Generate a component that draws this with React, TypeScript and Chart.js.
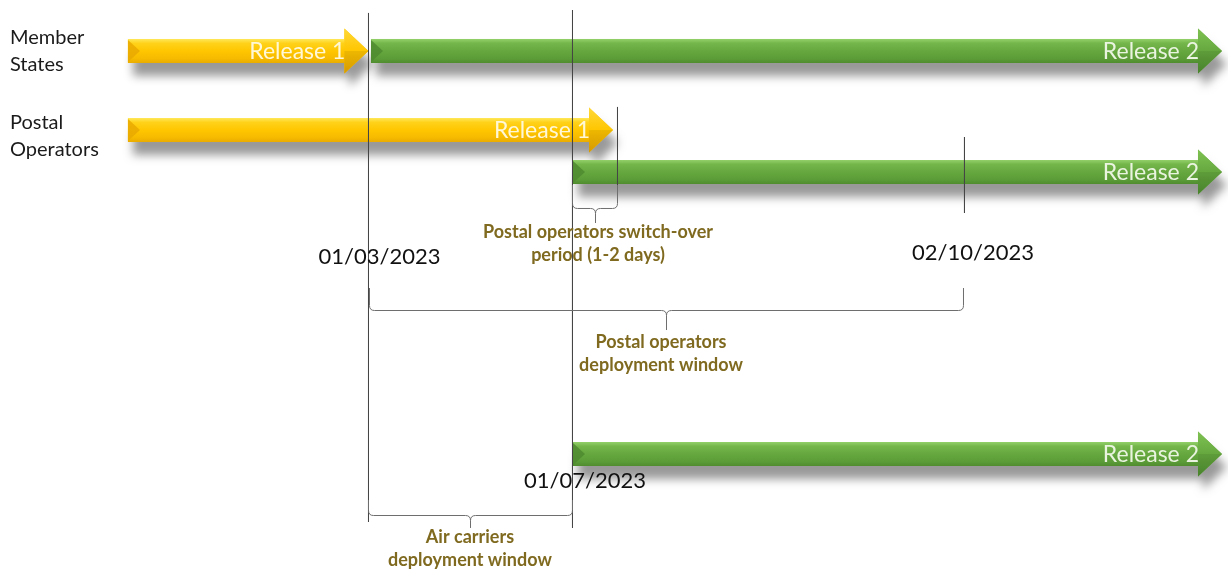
import React, { useEffect, useRef } from 'react';
import { Chart, registerables } from 'chart.js';

Chart.register(...registerables);

// Schematic timeline: x runs 0..100 across the page, y runs 0..100 down the page.
const rowLabelLines = [['Member', 'States'], ['Postal', 'Operators']];
const rowLabelX = [0.81, 0.81];
const rowLabelY = [6.68, 21.62];

const release1Names = ['Release 1', 'Release 1'];
const release1Rows = [8.96, 22.85];
const release1Start = [10.42, 10.42];
const release1End = [30.0, 49.92];

const release2Names = ['Release 2', 'Release 2', 'Release 2'];
const release2Rows = [8.96, 30.23, 79.79];
const release2Start = [30.21, 46.66, 46.66];
const release2End = [99.51, 99.51, 99.51];

const milestoneX = [30.008, 46.62, 50.285, 78.54];
const milestoneTop = [2.28, 1.76, 18.8, 24.08];
const milestoneBottom = [91.74, 92.79, 32.5, 37.43];

const dateLabels = ['01/03/2023', '02/10/2023', '01/07/2023'];
const dateX = [30.9, 79.23, 47.64];
const dateY = [45.17, 44.46, 84.53];

const braceFrom = [46.62, 30.09, 30.008];
const braceTo = [50.285, 78.46, 46.62];
const braceTop = [32.51, 50.62, 87.87];
const braceLine = [36.64, 54.57, 90.6];
const braceTip = [39.19, 58.0, 92.79];
const braceText = [
  ['Postal operators switch-over', 'period (1-2 days)'],
  ['Postal operators', 'deployment window'],
  ['Air carriers', 'deployment window'],
];
const braceTextX = [48.7, 53.83, 38.27];
const braceTextY = [40.77, 60.1, 94.38];

const FONT = 'Lato, "Open Sans", "DejaVu Sans", sans-serif';

const palettes: Record<string, any> = {
  'Release 1': {
    shaft: ['#FFE85A', '#FFD21A', '#FFC600', '#F6BA00', '#E9AC00'],
    headLight: '#FFD83A',
    headDark: '#E7A600',
    notch: '#E9A900',
    text: 'rgba(255,250,225,0.95)',
    names: release1Names,
  },
  'Release 2': {
    shaft: ['#93D06A', '#74B64A', '#66A83F', '#5C9C38', '#4F8C2F'],
    headLight: '#7FC252',
    headDark: '#4E8D2F',
    notch: '#4F8A30',
    text: 'rgba(240,248,232,0.95)',
    names: release2Names,
  },
};

function drawArrow(ctx: CanvasRenderingContext2D, s: number, t: number, cy: number, h: number, pal: any, label: string) {
  const L = 24;
  const H = 22.5;
  const hx = t - L;
  const top = cy - h / 2;
  const bot = cy + h / 2;
  const shape = () => {
    ctx.beginPath();
    ctx.moveTo(s, top);
    ctx.lineTo(hx, top);
    ctx.lineTo(hx, cy - H);
    ctx.lineTo(t, cy);
    ctx.lineTo(hx, cy + H);
    ctx.lineTo(hx, bot);
    ctx.lineTo(s, bot);
    ctx.closePath();
  };
  // shadow
  ctx.save();
  ctx.shadowColor = 'rgba(0,0,0,0.4)';
  ctx.shadowBlur = 10;
  ctx.shadowOffsetX = 5;
  ctx.shadowOffsetY = 13;
  shape();
  ctx.fillStyle = pal.shaft[2];
  ctx.fill();
  ctx.restore();
  // shaft
  const g = ctx.createLinearGradient(0, top, 0, bot);
  g.addColorStop(0, pal.shaft[0]);
  g.addColorStop(0.18, pal.shaft[1]);
  g.addColorStop(0.5, pal.shaft[2]);
  g.addColorStop(0.82, pal.shaft[3]);
  g.addColorStop(1, pal.shaft[4]);
  ctx.fillStyle = g;
  ctx.fillRect(s, top, hx - s + 0.5, h);
  // notch bevel at start
  ctx.beginPath();
  ctx.moveTo(s, top + 1);
  ctx.lineTo(s + 12, cy);
  ctx.lineTo(s, bot - 1);
  ctx.closePath();
  ctx.fillStyle = pal.notch;
  ctx.globalAlpha = 0.85;
  ctx.fill();
  ctx.globalAlpha = 1;
  // head
  const hg = ctx.createLinearGradient(0, cy - H, 0, cy + H);
  hg.addColorStop(0, pal.headLight);
  hg.addColorStop(0.5, pal.shaft[2]);
  hg.addColorStop(1, pal.headDark);
  ctx.beginPath();
  ctx.moveTo(hx, cy - H);
  ctx.lineTo(t, cy);
  ctx.lineTo(hx, cy + H);
  ctx.closePath();
  ctx.fillStyle = hg;
  ctx.fill();
  ctx.beginPath();
  ctx.moveTo(hx, cy);
  ctx.lineTo(t, cy);
  ctx.lineTo(hx, cy + H);
  ctx.closePath();
  ctx.fillStyle = 'rgba(0,0,0,0.07)';
  ctx.fill();
  // label
  ctx.font = `23px ${FONT}`;
  ctx.fillStyle = pal.text;
  ctx.textAlign = 'right';
  ctx.textBaseline = 'middle';
  ctx.fillText(label, hx + 1, cy + 1);
}

const timelinePlugin = {
  id: 'timeline',
  beforeDatasetsDraw(chart: any) {
    const ctx = chart.ctx as CanvasRenderingContext2D;
    chart.data.datasets.forEach((ds: any, di: number) => {
      if (ds.type !== 'bar') return;
      const pal = palettes[ds.label];
      const meta = chart.getDatasetMeta(di);
      meta.data.forEach((el: any, i: number) => {
        const p = el.getProps(['x', 'y', 'base', 'height'], true);
        drawArrow(ctx, Math.min(p.x, p.base), Math.max(p.x, p.base), p.y, p.height, pal, pal.names[i]);
      });
    });
  },
  afterDatasetsDraw(chart: any) {
    const ctx = chart.ctx as CanvasRenderingContext2D;
    const xs = chart.scales.x;
    const ys = chart.scales.y;
    ctx.save();
    // row labels
    ctx.font = `20px ${FONT}`;
    ctx.fillStyle = '#1b1b1b';
    ctx.textAlign = 'left';
    ctx.textBaseline = 'middle';
    rowLabelLines.forEach((lines, i) => {
      lines.forEach((ln, j) => {
        ctx.fillText(ln, xs.getPixelForValue(rowLabelX[i]), ys.getPixelForValue(rowLabelY[i]) + j * 27);
      });
    });
    // date labels
    ctx.font = `22px ${FONT}`;
    ctx.fillStyle = '#111111';
    ctx.textAlign = 'center';
    dateLabels.forEach((d, i) => {
      ctx.fillText(d, xs.getPixelForValue(dateX[i]), ys.getPixelForValue(dateY[i]));
    });
    // braces
    ctx.strokeStyle = '#6e6e6e';
    ctx.lineWidth = 1;
    braceFrom.forEach((f, i) => {
      const x1 = xs.getPixelForValue(f);
      const x2 = xs.getPixelForValue(braceTo[i]);
      const yt = ys.getPixelForValue(braceTop[i]);
      const yl = ys.getPixelForValue(braceLine[i]);
      const yp = ys.getPixelForValue(braceTip[i]);
      const xc = Math.round((x1 + x2) / 2) + 0.5;
      const r = 5;
      ctx.beginPath();
      ctx.moveTo(x1, yt);
      ctx.lineTo(x1, yl - r);
      ctx.quadraticCurveTo(x1, yl, x1 + r, yl);
      ctx.lineTo(xc - r, yl);
      ctx.quadraticCurveTo(xc, yl, xc, yl + r);
      ctx.lineTo(xc, yp);
      ctx.moveTo(xc, yl + r);
      ctx.quadraticCurveTo(xc, yl, xc + r, yl);
      ctx.lineTo(x2 - r, yl);
      ctx.quadraticCurveTo(x2, yl, x2, yl - r);
      ctx.lineTo(x2, yt);
      ctx.stroke();
    });
    // brace labels
    ctx.font = `bold 18px ${FONT}`;
    ctx.fillStyle = '#7f6a20';
    ctx.textAlign = 'center';
    braceText.forEach((lines, i) => {
      lines.forEach((ln, j) => {
        ctx.fillText(ln, xs.getPixelForValue(braceTextX[i]), ys.getPixelForValue(braceTextY[i]) + j * 23);
      });
    });
    ctx.restore();
  },
};

export default function App() {
  const ref = useRef<HTMLCanvasElement>(null);
  useEffect(() => {
    document.body.style.margin = '0';
    const datasets: any[] = [
      {
        type: 'bar',
        label: 'Release 1',
        data: release1Rows.map((r, i) => ({ x: [release1Start[i], release1End[i]], y: r })),
        backgroundColor: 'rgba(0,0,0,0)',
        borderWidth: 0,
        barThickness: 24,
        grouped: false,
        order: 5,
      },
      {
        type: 'bar',
        label: 'Release 2',
        data: release2Rows.map((r, i) => ({ x: [release2Start[i], release2End[i]], y: r })),
        backgroundColor: 'rgba(0,0,0,0)',
        borderWidth: 0,
        barThickness: 24,
        grouped: false,
        order: 4,
      },
      ...milestoneX.map((mx, i) => ({
        type: 'line',
        label: 'milestone' + i,
        data: [
          { x: mx, y: milestoneTop[i] },
          { x: mx, y: milestoneBottom[i] },
        ],
        borderColor: '#454545',
        borderWidth: 1,
        pointRadius: 0,
        fill: false,
        tension: 0,
        order: 1,
      })),
    ];
    const chart = new Chart(ref.current as HTMLCanvasElement, {
      type: 'bar',
      data: { datasets },
      options: {
        indexAxis: 'y',
        responsive: false,
        maintainAspectRatio: false,
        animation: false,
        events: [],
        layout: { padding: 0 },
        plugins: { legend: { display: false }, tooltip: { enabled: false } },
        scales: {
          x: { type: 'linear', min: 0, max: 100, display: false, offset: false, grid: { display: false } },
          y: { type: 'linear', min: 0, max: 100, reverse: true, display: false, offset: false, grid: { display: false } },
        },
      },
      plugins: [timelinePlugin],
    } as any);
    return () => chart.destroy();
  }, []);
  return (
    <div style={{ width: 1228, height: 569, background: '#ffffff' }}>
      <canvas ref={ref} width={1228} height={569} style={{ display: 'block', width: 1228, height: 569 }} />
    </div>
  );
}
